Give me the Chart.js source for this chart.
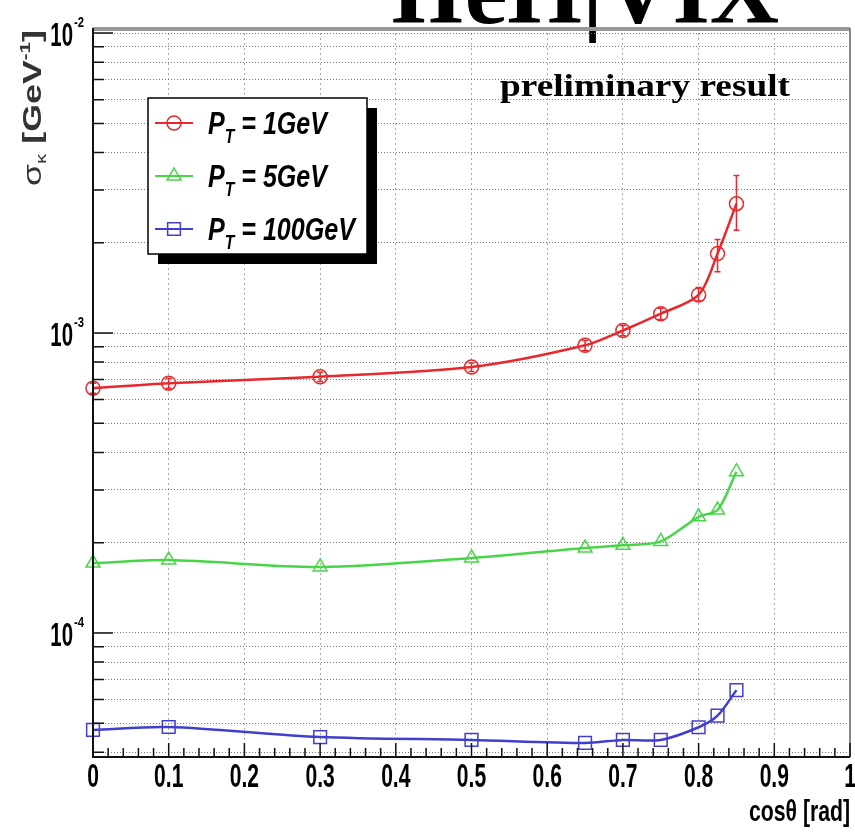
<!DOCTYPE html>
<html>
<head>
<meta charset="utf-8">
<script src="https://cdn.jsdelivr.net/npm/chart.js@4.4.1/dist/chart.umd.min.js"></script>
<style>
  body { margin: 0; background: #fff; }
  #stage { display: block; }
</style>
</head>
<body>
<canvas id="stage" width="855" height="832"></canvas>
<script>
// cos(theta) of each measured point
const cosTheta = [0, 0.1, 0.3, 0.5, 0.65, 0.7, 0.75, 0.8, 0.825, 0.85];

// sigma_kappa [GeV^-1] for each PT
const pt1 = [6.55e-4, 6.8e-4, 7.15e-4, 7.7e-4, 9.1e-4, 1.02e-3, 1.16e-3, 1.34e-3, 1.84e-3, 2.7e-3];
const pt1Lo = [6.3e-4, 6.55e-4, 6.9e-4, 7.45e-4, 8.75e-4, 9.8e-4, 1.11e-3, 1.28e-3, 1.6e-3, 2.2e-3];
const pt1Hi = [6.8e-4, 7.05e-4, 7.4e-4, 7.95e-4, 9.45e-4, 1.06e-3, 1.21e-3, 1.42e-3, 2.05e-3, 3.35e-3];
const pt5 = [1.71e-4, 1.75e-4, 1.66e-4, 1.78e-4, 1.92e-4, 1.96e-4, 2.02e-4, 2.44e-4, 2.57e-4, 3.45e-4];
const pt100 = [4.75e-5, 4.86e-5, 4.5e-5, 4.4e-5, 4.3e-5, 4.4e-5, 4.4e-5, 4.85e-5, 5.3e-5, 6.45e-5];

const seriesNames = ['1GeV', '5GeV', '100GeV'];

// axis ranges and labelled decades
const xMin = 0, xMax = 1;
const yMin = 3.86e-5, yMax = 1.04e-2;
const yDecades = [1e-4, 1e-3, 1e-2];
const yDecadeExp = ['-4', '-3', '-2'];

const SANS = "'Liberation Sans', Arial, sans-serif";

function pts(ys) {
    return cosTheta.map((x, i) => ({ x: x, y: ys[i] }));
}

function isDecade(v) {
    return yDecades.findIndex(d => Math.abs(Math.log10(v) - Math.log10(d)) < 1e-6);
}

// squeezed text, the reference fonts are very narrow
function narrow(ctx, text, x, y, font, sx, align) {
    ctx.save();
    ctx.font = font;
    const w = ctx.measureText(text).width * sx;
    let x0 = x;
    if (align === 'center') x0 = x - w / 2;
    if (align === 'right') x0 = x - w;
    ctx.translate(x0, y);
    ctx.scale(sx, 1);
    ctx.textAlign = 'left';
    ctx.fillText(text, 0, 0);
    ctx.restore();
    return w;
}

// text made of pieces (for sub/superscripts), squeezed to a given width
function richText(ctx, parts, x, y, width) {
    let total = 0;
    parts.forEach(p => { ctx.font = p.font; total += ctx.measureText(p.t).width; });
    const sx = width ? width / total : 1;
    ctx.save();
    ctx.translate(x, y);
    ctx.scale(sx, 1);
    let cx = 0;
    parts.forEach(p => {
        ctx.font = p.font;
        ctx.fillText(p.t, cx, p.dy || 0);
        cx += ctx.measureText(p.t).width;
    });
    ctx.restore();
}

function marker(ctx, ds, x, y) {
    ctx.save();
    ctx.strokeStyle = ds.borderColor;
    ctx.fillStyle = 'rgba(0,0,0,0)';
    ctx.lineWidth = ds.pointBorderWidth;
    Chart.helpers.drawPoint(ctx, { pointStyle: ds.pointStyle, radius: ds.pointRadius, borderWidth: ds.pointBorderWidth, rotation: 0 }, x, y);
    ctx.restore();
}

const decor = {
    id: 'decor',
    beforeDraw(chart) {
        const ctx = chart.ctx;
        ctx.save();
        ctx.fillStyle = '#fff';
        ctx.fillRect(0, 0, chart.width, chart.height);
        // cut-off slide title at the very top
        ctx.fillStyle = '#000';
        ctx.font = "bold 96px 'Liberation Serif', serif";
        ctx.textBaseline = 'alphabetic';
        ctx.fillText('IIeH|VIX', 390, 23);
        ctx.restore();
    },
    afterDatasetsDraw(chart) {
        const ctx = chart.ctx;
        const a = chart.chartArea;
        const xs = chart.scales.x, ys = chart.scales.y;
        ctx.save();
        ctx.textBaseline = 'alphabetic';

        // error bars of the 1 GeV series
        const red = chart.data.datasets[0];
        ctx.strokeStyle = red.borderColor;
        ctx.lineWidth = 1.5;
        cosTheta.forEach((c, i) => {
            const px = xs.getPixelForValue(c);
            const y1 = ys.getPixelForValue(pt1Lo[i]);
            const y2 = ys.getPixelForValue(pt1Hi[i]);
            ctx.beginPath();
            ctx.moveTo(px, y1); ctx.lineTo(px, y2);
            ctx.moveTo(px - 3, y1); ctx.lineTo(px + 3, y1);
            ctx.moveTo(px - 3, y2); ctx.lineTo(px + 3, y2);
            ctx.stroke();
        });

        // frame
        ctx.strokeStyle = '#999';
        ctx.lineWidth = 4;
        ctx.beginPath();
        ctx.moveTo(a.left, a.top + 1); ctx.lineTo(a.right, a.top + 1);
        ctx.stroke();
        ctx.lineWidth = 2;
        ctx.strokeStyle = '#888';
        ctx.beginPath();
        ctx.moveTo(a.right, a.top); ctx.lineTo(a.right, a.bottom);
        ctx.stroke();
        ctx.strokeStyle = '#111';
        ctx.beginPath();
        ctx.moveTo(a.left, a.top); ctx.lineTo(a.left, a.bottom); ctx.lineTo(a.right, a.bottom);
        ctx.stroke();

        // inner tick marks
        ctx.lineWidth = 1.5;
        ctx.beginPath();
        for (let i = 0; i <= 50; i++) {
            const px = xs.getPixelForValue(i / 50);
            const len = i % 5 === 0 ? 14 : 9;
            ctx.moveTo(px, a.bottom); ctx.lineTo(px, a.bottom - len);
        }
        ys.ticks.forEach(t => {
            const py = ys.getPixelForValue(t.value);
            const len = isDecade(t.value) >= 0 ? 20 : 11;
            ctx.moveTo(a.left, py); ctx.lineTo(a.left + len, py);
        });
        ctx.stroke();

        // tick labels, at the positions of the scales' ticks
        ctx.fillStyle = '#000';
        xs.ticks.forEach(t => {
            const px = xs.getPixelForValue(t.value);
            narrow(ctx, String(t.label), px, a.bottom + 30, 'bold 34px ' + SANS, 0.62, 'center');
        });
        ys.ticks.forEach(t => {
            const k = isDecade(t.value);
            if (k < 0) return;
            const py = ys.getPixelForValue(t.value);
            const base = py + 13;
            narrow(ctx, '10', 73, base, 'bold 34px ' + SANS, 0.6, 'right');
            narrow(ctx, yDecadeExp[k], 74, base - 19, 'bold 15px ' + SANS, 0.75, 'left');
        });

        // legend box with shadow
        const lx = 148, ly = 98, lw = 219, lh = 156;
        ctx.fillStyle = '#000';
        ctx.fillRect(lx + 10, ly + 10, lw, lh);
        ctx.fillStyle = '#fff';
        ctx.fillRect(lx, ly, lw, lh);
        ctx.strokeStyle = '#000';
        ctx.lineWidth = 1.5;
        ctx.strokeRect(lx, ly, lw, lh);
        chart.data.datasets.forEach((ds, i) => {
            const cy = 123 + i * 53;
            ctx.strokeStyle = ds.borderColor;
            ctx.lineWidth = 2;
            ctx.beginPath();
            ctx.moveTo(155, cy); ctx.lineTo(193, cy);
            ctx.stroke();
            marker(ctx, ds, 174, cy);
            ctx.fillStyle = '#000';
            richText(ctx, [
                { t: 'P', font: 'italic bold 32px ' + SANS },
                { t: 'T', font: 'italic bold 20px ' + SANS, dy: 9 },
                { t: ' = ' + seriesNames[i], font: 'italic bold 32px ' + SANS }
            ], 208, cy + 11, i === 2 ? 147 : 119);
        });

        // preliminary label
        ctx.fillStyle = '#000';
        ctx.font = "bold 32px 'Liberation Serif', serif";
        const pw = ctx.measureText('preliminary result').width;
        ctx.save();
        ctx.translate(500, 96);
        ctx.scale(290 / pw, 1);
        ctx.fillText('preliminary result', 0, 0);
        ctx.restore();

        // axis titles
        ctx.fillStyle = '#000';
        richText(ctx, [{ t: 'cosθ [rad]', font: 'bold 30px ' + SANS }], 749, 821, 101);

        ctx.save();
        ctx.translate(41, 186);
        ctx.rotate(-Math.PI / 2);
        ctx.fillStyle = '#333';
        richText(ctx, [
            { t: 'σ', font: '26px ' + SANS },
            { t: 'κ', font: '15px ' + SANS, dy: 5 },
            { t: ' [GeV', font: 'bold 26px ' + SANS },
            { t: '-1', font: 'bold 15px ' + SANS, dy: -11 },
            { t: ']', font: 'bold 26px ' + SANS }
        ], 0, 0, 156);
        ctx.restore();

        ctx.restore();
    }
};

function series(label, data, color, style, radius) {
    return {
        label: label,
        data: pts(data),
        showLine: true,
        clip: false,
        borderColor: color,
        backgroundColor: 'rgba(0,0,0,0)',
        borderWidth: 2.5,
        tension: 0.3,
        pointStyle: style,
        pointRadius: radius,
        pointBorderWidth: 1.5,
        pointBackgroundColor: 'rgba(0,0,0,0)',
        pointBorderColor: color
    };
}

new Chart(document.getElementById('stage'), {
    type: 'scatter',
    data: {
        datasets: [
            series('PT = 1GeV', pt1, 'rgb(232,40,44)', 'circle', 7),
            series('PT = 5GeV', pt5, 'rgb(72,214,72)', 'triangle', 8),
            series('PT = 100GeV', pt100, 'rgb(64,64,205)', 'rect', 9)
        ]
    },
    options: {
        responsive: false,
        animation: false,
        layout: { autoPadding: false, padding: { top: 28, right: 5, left: 0, bottom: 0 } },
        plugins: {
            legend: { display: false },
            tooltip: { enabled: false }
        },
        scales: {
            x: {
                type: 'linear',
                min: xMin,
                max: xMax,
                border: { display: false, dash: [2, 3] },
                grid: { color: '#aaa', lineWidth: 1, drawTicks: false },
                ticks: {
                    display: false,
                    stepSize: 0.1,
                    autoSkip: false,
                    callback: v => (v === 0 || v === 1) ? String(v) : v.toFixed(1)
                },
                afterFit: s => { s.height = 75; }
            },
            y: {
                type: 'logarithmic',
                min: yMin,
                max: yMax,
                border: { display: false, dash: [1, 2] },
                grid: { color: '#777', lineWidth: 1, drawTicks: false },
                ticks: {
                    display: false,
                    autoSkip: false
                },
                afterBuildTicks: s => {
                    const t = [];
                    for (let e = -5; e <= -2; e++) {
                        for (let m = 1; m <= 9; m++) {
                            const v = m * Math.pow(10, e);
                            if (v >= yMin && v <= yMax) t.push({ value: v });
                        }
                    }
                    s.ticks = t;
                },
                afterFit: s => { s.width = 93; }
            }
        }
    },
    plugins: [decor]
});
</script>
</body>
</html>
